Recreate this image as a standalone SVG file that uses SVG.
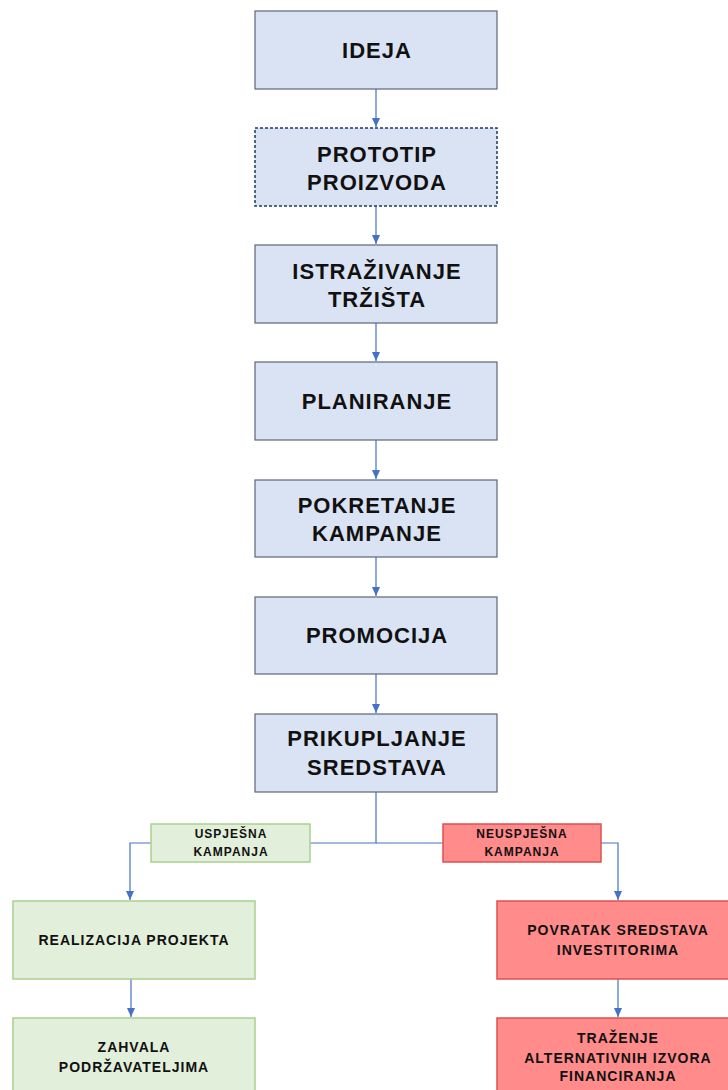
<svg xmlns="http://www.w3.org/2000/svg" width="728" height="1090" viewBox="0 0 728 1090">
<defs>
<marker id="arr" markerWidth="10" markerHeight="8" refX="9" refY="4" orient="auto" markerUnits="userSpaceOnUse">
<path d="M0,0 L9,4 L0,8 Z" fill="#4472C4"/>
</marker>
<style>
.main{fill:#DAE3F3;stroke:#5A6678;stroke-width:1.2}
.dash{fill:#DAE3F3;stroke:#1F3864;stroke-width:1.5;stroke-dasharray:3 2}
.green{fill:#E2EFDA;stroke:#A9D18E;stroke-width:1.5}
.red{fill:#FF8B8B;stroke:#E05050;stroke-width:1.5}
.t1{font-family:"Liberation Sans",Arial,sans-serif;font-weight:bold;font-size:22px;letter-spacing:1px;fill:#111;text-anchor:middle}
.t2{font-family:"Liberation Sans",Arial,sans-serif;font-weight:bold;font-size:14px;letter-spacing:1px;fill:#111;text-anchor:middle}
.t3{font-family:"Liberation Sans",Arial,sans-serif;font-weight:bold;font-size:12px;letter-spacing:1px;fill:#111;text-anchor:middle}
.c{fill:none;stroke:#4472C4;stroke-width:1.2}
</style>
</defs>
<g id="connectors">
<path class="c" d="M376,89 V127" marker-end="url(#arr)"/>
<path class="c" d="M376,206 V244" marker-end="url(#arr)"/>
<path class="c" d="M376,323 V361" marker-end="url(#arr)"/>
<path class="c" d="M376,440 V479" marker-end="url(#arr)"/>
<path class="c" d="M376,557 V596" marker-end="url(#arr)"/>
<path class="c" d="M376,674 V713" marker-end="url(#arr)"/>
<path class="c" d="M376,792 V843 H310"/>
<path class="c" d="M376,843 H443"/>
<path class="c" d="M151,843 H130 V900" marker-end="url(#arr)"/>
<path class="c" d="M601,843 H618 V900" marker-end="url(#arr)"/>
<path class="c" d="M131,979 V1017" marker-end="url(#arr)"/>
<path class="c" d="M618,979 V1017" marker-end="url(#arr)"/>
</g>
<g id="ideja"><rect class="main" x="255" y="11" width="242" height="78"/><text class="t1" x="377" y="58">IDEJA</text></g>
<g id="prototip"><rect class="dash" x="255" y="128" width="242" height="78"/><text class="t1" x="377" y="162">PROTOTIP</text><text class="t1" x="377" y="190">PROIZVODA</text></g>
<g id="istrazivanje"><rect class="main" x="255" y="245" width="242" height="78"/><text class="t1" x="377" y="279">ISTRAŽIVANJE</text><text class="t1" x="377" y="307">TRŽIŠTA</text></g>
<g id="planiranje"><rect class="main" x="255" y="362" width="242" height="78"/><text class="t1" x="377" y="409">PLANIRANJE</text></g>
<g id="pokretanje"><rect class="main" x="255" y="480" width="242" height="77"/><text class="t1" x="377" y="513">POKRETANJE</text><text class="t1" x="377" y="541">KAMPANJE</text></g>
<g id="promocija"><rect class="main" x="255" y="597" width="242" height="77"/><text class="t1" x="377" y="643">PROMOCIJA</text></g>
<g id="prikupljanje"><rect class="main" x="255" y="714" width="242" height="78"/><text class="t1" x="377" y="746">PRIKUPLJANJE</text><text class="t1" x="377" y="775">SREDSTAVA</text></g>
<g id="uspjesna"><rect class="green" x="151" y="824" width="159" height="38"/><text class="t3" x="231" y="838">USPJEŠNA</text><text class="t3" x="231" y="856">KAMPANJA</text></g>
<g id="neuspjesna"><rect class="red" x="443" y="824" width="158" height="38"/><text class="t3" x="522" y="838">NEUSPJEŠNA</text><text class="t3" x="522" y="856">KAMPANJA</text></g>
<g id="realizacija"><rect class="green" x="13" y="901" width="242" height="78"/><text class="t2" x="134" y="945">REALIZACIJA PROJEKTA</text></g>
<g id="zahvala"><rect class="green" x="13" y="1018" width="242" height="80"/><text class="t2" x="134" y="1052">ZAHVALA</text><text class="t2" x="134" y="1072">PODRŽAVATELJIMA</text></g>
<g id="povratak"><rect class="red" x="497" y="901" width="242" height="78"/><text class="t2" x="618" y="935">POVRATAK SREDSTAVA</text><text class="t2" x="618" y="955">INVESTITORIMA</text></g>
<g id="trazenje"><rect class="red" x="497" y="1018" width="242" height="80"/><text class="t2" x="618" y="1043">TRAŽENJE</text><text class="t2" x="618" y="1063">ALTERNATIVNIH IZVORA</text><text class="t2" x="618" y="1081">FINANCIRANJA</text></g>
</svg>
